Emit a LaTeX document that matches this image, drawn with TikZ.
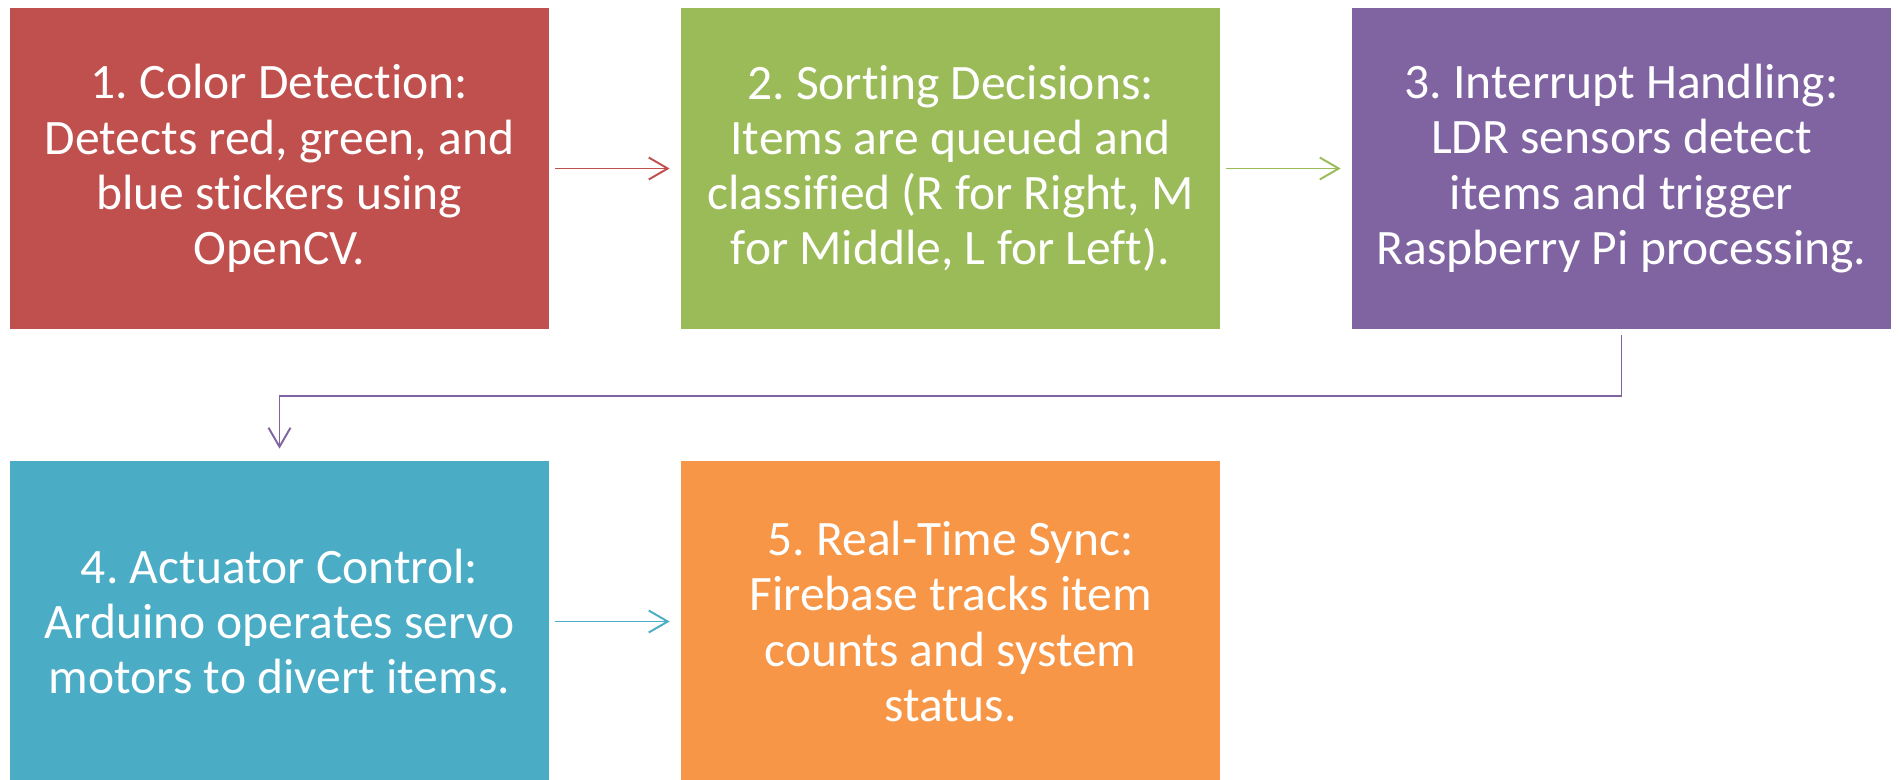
\documentclass[tikz,border=0pt]{standalone}
\usepackage{fontspec}
\setmainfont{Carlito}[Ligatures=NoCommon]
\frenchspacing
\usetikzlibrary{arrows.meta}
\definecolor{redstep}{HTML}{C0504D}
\definecolor{greenstep}{HTML}{9BBB59}
\definecolor{purplestep}{HTML}{8064A2}
\definecolor{bluestep}{HTML}{4BACC6}
\definecolor{orangestep}{HTML}{F79646}
\begin{document}
\begin{tikzpicture}[
  stage/.style={minimum width=10.78cm, minimum height=6.42cm, inner sep=0pt,
    text=white, align=center, font=\fontsize{28.2}{31.4}\selectfont},
  link/.style={line width=1.1pt, -{Straight Barb[length=0.38cm, width=0.44cm]},
    shorten <=0.12cm, shorten >=0.22cm}]
\useasboundingbox (0,0) rectangle (38,-15.58);
\node[stage, fill=redstep] (detect) at (5.59,-3.37) {1. Color Detection:\\Detects red, green, and\\blue stickers using\\OpenCV.};
\node[stage, fill=greenstep] (sort) at (19.01,-3.37) {2. Sorting Decisions:\\Items are queued and\\classified (R for Right, M\\for Middle, L for Left).};
\node[stage, fill=purplestep] (interrupt) at (32.43,-3.37) {3. Interrupt Handling:\\LDR sensors detect\\items and trigger\\Raspberry Pi processing.};
\node[stage, fill=bluestep] (actuate) at (5.59,-12.43) {4. Actuator Control:\\Arduino operates servo\\motors to divert items.};
\node[stage, fill=orangestep] (sync) at (19.01,-12.43) {5. Real-Time Sync:\\Firebase tracks item\\counts and system\\status.};

\draw[link, redstep] (detect) -- (sort);
\draw[link, greenstep] (sort) -- (interrupt);
\draw[link, purplestep, shorten >=0.24cm] (interrupt.south) -- ++(0,-1.34) -| (actuate.north);
\draw[link, bluestep] (actuate) -- (sync);
\end{tikzpicture}
\end{document}
